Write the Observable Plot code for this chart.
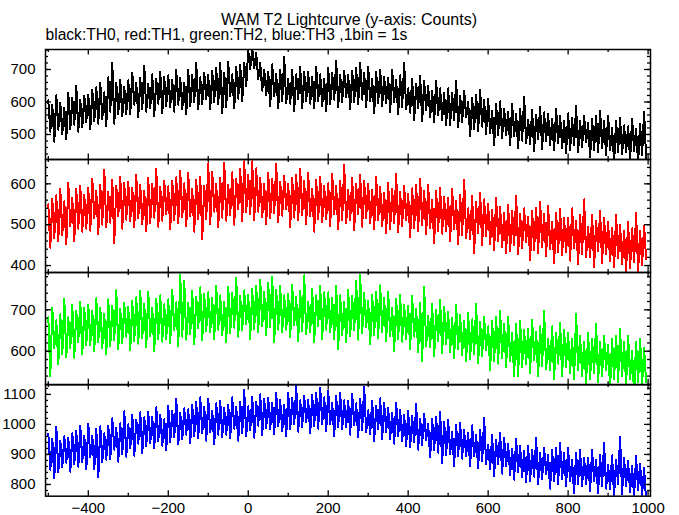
<!DOCTYPE html>
<html><head><meta charset="utf-8">
<script src="https://cdn.jsdelivr.net/npm/d3@7"></script>
<script src="https://cdn.jsdelivr.net/npm/@observablehq/plot@0.6"></script>
<style>
body{margin:0;background:#fff;}
#chart{position:relative;width:679px;height:515px;overflow:hidden;background:#fff;font-family:"Liberation Sans",Arial,Helvetica,sans-serif;color:#000;}
.title{position:absolute;top:13.3px;left:0;width:698px;text-align:center;font-size:16px;line-height:13px;white-space:nowrap;}
.subtitle{position:absolute;top:28.1px;left:45.5px;font-size:15.6px;line-height:13px;white-space:nowrap;}
</style></head><body>
<div id="chart">
<div class="title">WAM T2 Lightcurve (y-axis: Counts)</div>
<div class="subtitle">black:TH0, red:TH1, green:TH2, blue:TH3 ,1bin = 1s</div>
</div>
<script>
// Counts per bin (5 s sampling of the 1 s lightcurve), t = -500 ... 995
const th0 = [
605,508,591,478,621,515,598,501,583,485,
628,516,613,530,650,508,606,523,620,538,
623,517,637,540,645,533,660,547,630,525,
676,570,720,533,660,563,668,556,646,563,
667,562,690,592,660,554,674,577,712,570,
655,580,685,557,670,595,693,565,677,587,
682,585,668,570,698,592,675,578,660,562,
698,586,683,600,720,578,676,593,690,608,
683,577,697,600,705,593,720,565,690,585,
723,617,685,580,707,610,715,603,720,650,
760,700,765,705,750,670,720,635,700,620,
693,588,716,618,686,580,700,603,738,596,
670,595,700,572,685,610,708,580,692,602,
692,595,678,580,708,602,685,588,670,572,
705,593,690,607,727,585,683,600,697,615,
683,577,697,600,705,593,720,607,690,585,
708,602,670,565,692,595,700,588,678,595,
675,570,698,600,668,562,682,585,720,578,
642,567,672,544,657,582,680,540,664,574,
649,552,635,537,665,559,642,545,627,529,
642,530,627,544,664,522,620,537,634,552,
600,494,614,517,622,510,637,524,607,502,
610,504,572,467,594,497,602,490,580,497,
571,466,594,496,564,458,578,481,616,474,
546,471,576,448,561,486,584,456,568,478,
563,466,549,451,579,473,556,459,541,443,
565,453,550,467,587,445,543,460,557,475,
535,429,549,452,557,445,572,459,542,437,
558,452,520,415,542,445,550,438,528,445,
525,420,548,450,518,412,532,435,570,428];
const th1 = [
550,444,564,467,572,460,587,474,557,452,
603,497,565,460,587,490,595,483,573,490,
590,485,613,515,583,477,597,500,635,493,
580,505,610,455,595,520,618,490,602,512,
605,508,591,493,621,515,598,501,583,485,
615,503,600,517,637,495,593,510,607,525,
594,488,608,511,616,504,631,518,601,496,
626,520,588,483,610,513,618,465,596,513,
650,502,630,532,600,494,614,517,652,510,
598,523,628,500,613,538,636,508,655,530,
622,525,655,510,638,532,615,518,600,502,
627,515,612,529,649,507,605,522,619,537,
600,494,614,517,622,510,637,524,607,502,
626,520,588,483,610,513,618,506,596,513,
601,496,624,526,594,488,608,511,646,504,
585,510,615,487,600,525,623,495,607,517,
600,503,586,488,616,510,593,496,578,480,
602,490,587,504,624,482,580,497,594,512,
575,469,589,492,597,485,612,499,582,477,
598,492,560,455,582,485,590,478,568,485,
565,460,588,490,558,452,572,475,610,468,
540,465,570,430,555,480,578,450,562,472,
550,453,536,438,566,460,543,446,528,430,
548,436,533,450,570,428,526,443,540,458,
520,414,534,437,542,430,557,444,527,422,
546,440,508,405,530,433,538,426,516,433,
517,412,540,442,510,404,524,427,562,420,
495,420,525,397,510,435,533,405,517,427,
507,410,493,395,523,417,500,403,485,387,
506,394,491,408,528,386,484,401,498,416];
const th2 = [
682,540,705,607,675,569,689,592,727,585,
682,607,712,584,697,622,720,592,704,614,
712,615,698,600,728,622,705,608,690,592,
725,613,710,627,747,605,703,620,717,635,
708,602,722,625,730,618,745,632,715,610,
743,637,705,600,727,630,735,623,713,630,
725,620,748,650,718,612,785,635,770,628,
716,641,746,618,731,656,754,626,738,648,
742,645,728,630,758,652,735,638,720,622,
755,643,740,657,777,635,733,650,747,665,
736,630,750,653,758,646,773,660,743,638,
765,659,780,622,749,652,757,645,735,652,
738,633,761,663,731,625,745,648,783,641,
720,645,750,622,735,660,758,630,742,652,
742,645,728,630,758,605,735,638,720,622,
748,636,733,650,770,628,785,643,740,658,
722,616,736,639,744,632,759,646,729,624,
743,637,705,600,727,630,735,623,713,630,
710,605,733,635,703,597,717,575,755,613,
685,610,715,587,700,625,723,595,707,617,
695,598,681,583,711,605,688,591,673,575,
692,580,677,594,714,572,670,587,684,602,
660,554,674,577,682,570,697,584,667,562,
682,576,644,539,666,540,674,562,652,569,
653,548,676,578,646,540,660,563,698,556,
630,555,660,532,645,570,668,540,652,562,
644,547,630,532,690,554,637,540,622,524,
645,533,630,547,667,525,623,540,637,555,
616,510,630,533,638,526,653,540,623,518,
638,532,600,495,622,525,630,518,608,525];
const th3 = [
969,849,953,820,993,841,945,857,961,873,
955,843,971,867,979,859,995,875,963,851,
1002,890,962,850,986,825,994,874,970,882,
996,884,1020,916,988,876,1004,900,1044,892,
1000,920,1032,896,1016,936,1040,904,1024,928,
1041,937,1025,921,1057,945,1033,929,1017,913,
1062,942,1046,958,1086,934,1038,950,1054,966,
1050,938,1066,962,1074,954,1090,970,1058,946,
1086,974,1046,934,1070,966,1078,958,1054,966,
1066,954,1090,986,1058,946,1074,970,1114,962,
1060,980,1092,956,1076,996,1100,964,1084,988,
1089,985,1073,969,1105,993,1081,977,1065,961,
1104,984,1088,1000,1128,976,1080,992,1096,1008,
1082,970,1098,994,1106,986,1122,1002,1090,978,
1112,1000,1072,960,1096,992,1104,984,1080,992,
1078,966,1102,998,1070,958,1086,982,1126,974,
1047,967,1079,943,1063,983,1087,951,1071,975,
1056,952,1040,936,1072,960,1048,944,1032,928,
1044,924,1028,940,1068,916,1020,932,1036,948,
1002,890,1018,914,1026,906,1042,870,1010,898,
1014,902,974,862,998,894,1006,886,982,894,
973,861,997,893,965,853,981,877,1021,869,
932,852,964,828,948,868,972,836,956,860,
936,832,920,816,952,840,928,824,912,808,
930,810,914,826,954,802,906,818,922,834,
898,786,914,810,922,802,938,818,906,794,
922,810,882,770,906,802,914,794,890,802,
890,778,914,810,882,770,898,794,938,786,
865,785,897,761,881,801,960,769,889,793,
878,774,862,758,894,782,870,766,854,750];

const times = d3.range(-500, 1000, 5);          // bin start times (s)
const xLabels = [-400, -200, 0, 200, 400, 600, 800, 1000];
const xMajor = [-400, -200, 0, 200, 400, 600, 800, 1000];
const xMinor = [-500, -300, -100, 100, 300, 500, 700, 900];
const yLabels0 = [500, 600, 700];
const yLabels1 = [400, 500, 600];
const yLabels2 = [600, 700];
const yLabels3 = [800, 900, 1000, 1100];

const W = 679, LEFT = 45, RIGHT = 650, PAD = 6;
const xDomain = [-507, 1006];
const panels = [
  {values: th0, color: "#000000", top: 49,    bottom: 159,   domain: [423, 761.5], major: yLabels0, minor: d3.range(440, 761, 20)},
  {values: th1, color: "#ff0000", top: 159,   bottom: 272,   domain: [383, 659.5], major: yLabels1, minor: d3.range(400, 659, 20)},
  {values: th2, color: "#00ff00", top: 272,   bottom: 384.3, domain: [519, 790],   major: yLabels2, minor: d3.range(520, 790, 20)},
  {values: th3, color: "#0000ff", top: 384.3, bottom: 496,   domain: [761, 1133],  major: yLabels3, minor: d3.range(780, 1133, 20)}
];
const chart = document.getElementById("chart");
const fmt = d3.format("d");
panels.forEach((p, i) => {
  const H = p.bottom - p.top;
  const IW = RIGHT - LEFT;
  const last = i === panels.length - 1;
  const mb = last ? 19 : PAD;
  const rows = p.values.map((v, k) => ({t: times[k], v}));
  const tick = {stroke: "#000", strokeWidth: 1.3};
  const svg = Plot.plot({
    width: W, height: H + PAD + mb,
    marginLeft: LEFT, marginRight: W - RIGHT, marginTop: PAD, marginBottom: mb,
    x: {domain: xDomain, label: null, axis: last ? undefined : null},
    y: {domain: p.domain, label: null},
    style: {background: "transparent", fontFamily: '"Liberation Sans", Arial, Helvetica, sans-serif', fontSize: "15px", color: "#000", overflow: "visible"},
    marks: [
      Plot.line(rows, {x: "t", y: "v", stroke: p.color, strokeWidth: 2, curve: "linear", clip: true, shapeRendering: "crispEdges"}),
      Plot.frame({stroke: "#000", strokeWidth: 1.5}),
      Plot.ruleX(xMinor, {...tick, insetTop: H - 3}),
      Plot.ruleX(xMajor, {...tick, insetTop: H - 5.5}),
      Plot.ruleX(xMinor, {...tick, insetBottom: H - 3}),
      Plot.ruleX(xMajor, {...tick, insetBottom: H - 5.5}),
      Plot.ruleY(p.minor, {...tick, insetRight: IW - 3}),
      Plot.ruleY(p.major, {...tick, insetRight: IW - 6}),
      Plot.ruleY(p.minor, {...tick, insetLeft: IW - 3}),
      Plot.ruleY(p.major, {...tick, insetLeft: IW - 6}),
      Plot.axisY(p.major, {anchor: "left", tickSize: 0, tickPadding: 10, tickFormat: fmt, label: null, fill: "#000"}),
      last ? Plot.axisX(xLabels, {anchor: "bottom", tickSize: 0, tickPadding: 6, tickFormat: fmt, label: null, fill: "#000"}) : null
    ]
  });
  svg.style.position = "absolute";
  svg.style.left = "0px";
  svg.style.top = (p.top - PAD) + "px";
  chart.appendChild(svg);
});
</script>
</body></html>
